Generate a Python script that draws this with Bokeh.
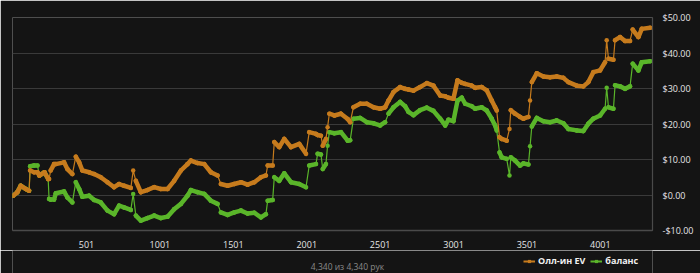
from bokeh.plotting import figure
from bokeh.layouts import column
from bokeh.models import (ColumnDataSource, Range1d, FixedTicker, CustomJSTickFormatter,
                          LinearAxis, Legend, LegendItem, Label)
from bokeh.embed import file_html
from bokeh.resources import INLINE

hands = [1, 30, 53, 87, 110, 117, 144, 167, 180, 215, 240, 246, 257, 280, 292, 348, 371, 405,
         428, 451, 473, 519, 553, 598, 644, 689, 723, 757, 803, 819, 837, 871, 916, 962, 1007,
         1053, 1098, 1144, 1189, 1212, 1257, 1303, 1348, 1394, 1416, 1462, 1507, 1553, 1598,
         1644, 1689, 1723, 1735, 1769, 1780, 1814, 1848, 1894, 1950, 1996, 2018, 2064, 2075,
         2098, 2110, 2132, 2143, 2155, 2189, 2234, 2280, 2297, 2319, 2365, 2410, 2456, 2501,
         2535, 2558, 2592, 2637, 2671, 2694, 2728, 2773, 2819, 2864, 2910, 2944, 2966, 3000,
         3028, 3057, 3080, 3125, 3148, 3193, 3227, 3261, 3284, 3295, 3314, 3329, 3363, 3382,
         3391, 3420, 3454, 3477, 3511, 3522, 3534, 3568, 3613, 3658, 3704, 3749, 3783, 3840,
         3885, 3919, 3953, 3999, 4033, 4044, 4056, 4090, 4101, 4135, 4169, 4203, 4221, 4260,
         4283, 4340]

ev = [-0.2, 0.8, 2.6, 1.7, 1.2, 6.9, 6.4, 6.4, 5.5, 6.4, 4.5, 4.5, 6.9, 8.7, 8.7, 9.2, 7.3, 5.9,
      10.8, 9.2, 6.9, 6.4, 5.9, 5.0, 3.6, 2.2, 3.1, 2.6, 2.0, 6.9, 4.0, 0.8, 1.4, 2.2, 1.7,
      1.7, 4.0, 6.9, 8.7, 9.7, 9.0, 8.7, 6.4, 5.5, 3.1, 2.6, 3.1, 3.6, 2.9,
      3.6, 5.0, 5.5, 8.3, 8.3, 14.9, 13.5, 15.8, 13.5, 14.4, 11.6, 17.7, 17.2, 16.9,
      16.7, 13.9, 15.8, 19.1, 22.9, 22.4, 22.9, 21.4, 20.5, 24.7, 25.7, 25.7, 24.7, 24.3,
      24.7, 26.6, 29.0, 30.4, 29.9, 29.7, 29.4, 30.4, 31.5, 30.8, 28.0, 27.8, 27.4, 27.1,
      32.3, 31.6, 31.3, 30.8, 30.2, 30.4, 29.5, 26.6, 24.7, 23.8, 16.3, 15.8, 15.3, 18.6,
      23.9, 22.9, 22.0, 21.5, 22.0, 26.6, 31.8, 34.3, 33.4, 33.2, 33.4, 33.0, 31.8, 30.8,
      30.6, 31.8, 34.6, 35.1, 37.4, 43.6, 38.4, 38.1, 43.6, 44.5, 43.4, 43.4, 46.6, 44.5,
      46.8, 47.1]

balance = [-0.2, 0.8, 2.6, 1.7, 1.2, 8.1, 8.3, 8.3, 5.5, 6.4, 4.5, -1.1, -1.3, -1.3, 0.5, 1.0, -0.7, -2.1,
           3.6, 1.7, -0.5, -0.2, -1.4, -2.1, -4.4, -5.4, -3.0, -3.5, -4.2, 0.3, -5.8, -7.2, -6.5, -5.8, -6.5,
           -6.1, -4.0, -2.5, -0.2, 1.4, 0.8, 0.3, -1.6, -2.5, -4.9, -5.6, -4.9, -4.4, -5.2,
           -5.0, -6.3, -5.4, -1.6, -1.4, 5.0, 4.0, 6.1, 3.6, 3.1, 2.2, 8.3, 8.7, 11.6,
           11.4, 7.3, 8.7, 13.9, 17.7, 17.4, 17.7, 15.3, 15.4, 21.5, 21.7, 20.5, 20.2, 19.6,
           20.5, 22.9, 24.7, 26.2, 25.0, 23.4, 22.5, 23.9, 24.6, 23.7, 21.5, 19.6, 21.2, 20.8,
           26.6, 27.4, 25.7, 25.0, 24.3, 24.7, 23.8, 21.5, 19.6, 18.2, 12.0, 10.6, 10.2, 5.5,
           10.6, 9.7, 8.3, 8.9, 8.6, 13.7, 19.3, 21.7, 20.8, 20.5, 21.0, 20.2, 18.6, 18.2,
           18.0, 20.1, 21.5, 22.4, 24.3, 30.2, 24.7, 24.3, 30.9, 30.6, 29.9, 30.6, 37.0, 35.1,
           37.4, 37.7]

series_names = ["Олл-ин EV", "баланс"]
series_colors = ["#c67b1d", "#5ab52a"]
x_ticks = [501, 1001, 1501, 2001, 2501, 3001, 3501, 4001]
y_ticks = [-10, 0, 10, 20, 30, 40, 50]
caption = "4,340 из 4,340 рук"

BG = "#141414"
FONT = "Open Sans"

p = figure(width=700, height=250, output_backend="svg", toolbar_location=None,
           x_range=Range1d(-3, 4356), y_range=Range1d(-10, 50),
           min_border_left=12, min_border_top=17, min_border_right=48, min_border_bottom=20,
           background_fill_color=BG, border_fill_color=BG, outline_line_color=None,
           y_axis_location=None, x_axis_location=None)

p.xgrid.grid_line_color = None
p.ygrid.grid_line_color = "#3a3a3a"
p.ygrid.grid_line_width = 1.2
p.ygrid.ticker = FixedTicker(ticks=y_ticks)

xaxis = LinearAxis(ticker=FixedTicker(ticks=x_ticks))
xaxis.axis_line_color = "#4a4a4a"
xaxis.axis_line_width = 1.5
xaxis.major_tick_line_color = None
xaxis.minor_tick_line_color = None
xaxis.major_label_text_color = "#e6e6e6"
xaxis.major_label_text_font = FONT
xaxis.major_label_text_font_size = "9px"
xaxis.major_label_standoff = 4
p.add_layout(xaxis, "below")

yaxis = LinearAxis(ticker=FixedTicker(ticks=y_ticks))
yaxis.formatter = CustomJSTickFormatter(
    code="return (tick < 0 ? '-' : '') + '$' + Math.abs(tick).toFixed(2);")
yaxis.axis_line_color = "#4a4a4a"
yaxis.axis_line_width = 1.2
yaxis.major_tick_line_color = None
yaxis.minor_tick_line_color = None
yaxis.major_label_text_color = "#e6e6e6"
yaxis.major_label_text_font = FONT
yaxis.major_label_text_font_size = "9px"
yaxis.major_label_standoff = 4
p.add_layout(yaxis, "right")

for name, vals, color in [(series_names[1], balance, series_colors[1]),
                          (series_names[0], ev, series_colors[0])]:
    thick = {"x0": [], "y0": [], "x1": [], "y1": []}
    for i in range(len(hands) - 1):
        dv = abs(vals[i + 1] - vals[i])
        dh = hands[i + 1] - hands[i]
        if not (dv >= 2.3 and dh <= 25):
            thick["x0"].append(hands[i]); thick["y0"].append(vals[i])
            thick["x1"].append(hands[i + 1]); thick["y1"].append(vals[i + 1])
    src = ColumnDataSource(dict(x=hands, y=vals))
    p.line("x", "y", source=src, line_color=color, line_width=1.2)
    p.segment("x0", "y0", "x1", "y1", source=ColumnDataSource(thick),
              line_color=color, line_width=4.5, line_cap="round")
    p.scatter("x", "y", source=src, size=4.5, fill_color=color, line_color=None)

# footer strip: legend + caption (its frame lines up with the main plot's frame: 12..652 px)
f = figure(width=700, height=23, output_backend="svg", toolbar_location=None,
           x_range=Range1d(12, 652), y_range=Range1d(0, 23),
           min_border_left=12, min_border_right=48, min_border_top=0, min_border_bottom=0,
           background_fill_color=BG, border_fill_color=BG,
           outline_line_color=None, x_axis_location=None, y_axis_location=None)
f.xgrid.visible = False
f.ygrid.visible = False
f.axis.visible = False
f.outline_line_alpha = 0

items = []
for name, color in zip(series_names, series_colors):
    dummy = ColumnDataSource(dict(x=[float("nan")], y=[float("nan")]))
    rl = f.line("x", "y", source=dummy, line_color=color, line_width=2)
    rs = f.scatter("x", "y", source=dummy, marker="square", size=5,
                   fill_color=color, line_color=None)
    items.append(LegendItem(label=name, renderers=[rl, rs]))

legend = Legend(items=items, orientation="horizontal", location=(511, 6),
                background_fill_alpha=0, border_line_color=None,
                label_text_color="#f0f0f0", label_text_font=FONT, label_text_font_size="9px",
                label_text_font_style="bold", label_height=10,
                glyph_width=12, glyph_height=8, label_standoff=3, spacing=5,
                padding=0, margin=0)
f.add_layout(legend, "center")

f.add_layout(Label(x=347, y=7, text=caption, text_align="center", text_baseline="middle",
                   text_color="#8a8a8a", text_font=FONT, text_font_size="8.5px"))

layout = column(p, f, spacing=0)
open("out.html", "w").write(file_html(layout, INLINE))
